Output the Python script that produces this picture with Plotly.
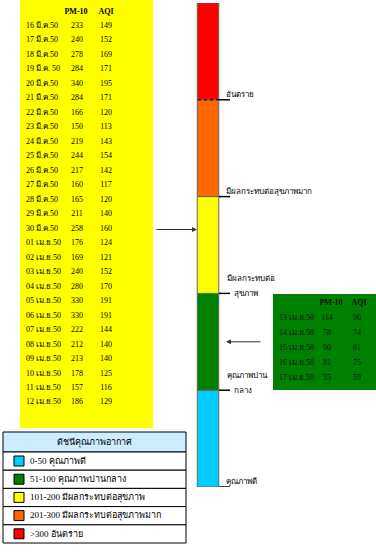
import plotly.graph_objects as go

# ---------------- data ----------------
dates_main = ["16 มี.ค.50", "17 มี.ค.50", "18 มี.ค.50", "19 มี.ค. 50", "20 มี.ค.50",
              "21 มี.ค.50", "22 มี.ค.50", "23 มี.ค.50", "24 มี.ค.50", "25 มี.ค.50",
              "26 มี.ค.50", "27 มี.ค.50", "28 มี.ค.50", "29 มี.ค.50", "30 มี.ค.50",
              "01 เม.ย.50", "02 เม.ย.50", "03 เม.ย.50", "04 เม.ย.50", "05 เม.ย.50",
              "06 เม.ย.50", "07 เม.ย.50", "08 เม.ย.50", "09 เม.ย.50", "10 เม.ย.50",
              "11 เม.ย.50", "12 เม.ย.50"]
pm10_main = [233, 240, 278, 284, 340, 284, 166, 150, 219, 244, 217, 160, 165, 211, 258,
             176, 169, 240, 280, 330, 330, 222, 212, 213, 178, 157, 186]
aqi_main = [149, 152, 169, 171, 195, 171, 120, 113, 143, 154, 142, 117, 120, 140, 160,
            124, 121, 152, 170, 191, 191, 144, 140, 140, 125, 116, 129]

dates_recent = ["13 เม.ย.50", "14 เม.ย.50", "15 เม.ย.50", "16 เม.ย.50", "17 เม.ย.50"]
pm10_recent = [114, 78, 90, 81, 55]
aqi_recent = [96, 74, 81, 75, 59]

levels = ["คุณภาพดี", "คุณภาพปานกลาง", "มีผลกระทบต่อสุขภาพ", "มีผลกระทบต่อสุขภาพมาก", "อันตราย"]
level_ranges = ["0-50", "51-100", "101-200", "201-300", ">300"]
level_colors = ["#00CCFF", "#008000", "#FFFF00", "#FF6600", "#FF0000"]
boundary_labels = [["คุณภาพดี"], ["คุณภาพปาน", "กลาง"], ["มีผลกระทบต่อ", "สุขภาพ"],
                   ["มีผลกระทบต่อสุขภาพมาก"], ["อันตราย"]]
legend_title = "ดัชนีคุณภาพอากาศ"

FONT = "Liberation Serif"
fig = go.Figure()

# ---------------- yellow table ----------------
fig.add_shape(type="rect", xref="x", yref="y", x0=20, x1=153, y0=0, y1=428,
              fillcolor="#FFFF00", line_width=0, layer="below")
row0, dy = 26, 14.48
ys = [row0 + i * dy for i in range(len(dates_main))]
tf = dict(family=FONT, size=8, color="#000000")
fig.add_trace(go.Scatter(x=[76, 106], y=[12, 12], mode="text", text=["<b>PM-10</b>", "<b>AQI</b>"],
                         textfont=tf, textposition="middle center", hoverinfo="skip"))
fig.add_trace(go.Scatter(x=[26] * len(ys), y=ys, mode="text", text=dates_main,
                         textfont=tf, textposition="middle right", hoverinfo="skip"))
fig.add_trace(go.Scatter(x=[77] * len(ys), y=ys, mode="text", text=[str(v) for v in pm10_main],
                         textfont=tf, textposition="middle center", hoverinfo="skip"))
fig.add_trace(go.Scatter(x=[106] * len(ys), y=ys, mode="text", text=[str(v) for v in aqi_main],
                         textfont=tf, textposition="middle center", hoverinfo="skip"))

# ---------------- green table ----------------
fig.add_shape(type="rect", xref="x", yref="y", x0=273, x1=376, y0=294, y1=390,
              fillcolor="#008000", line_width=0, layer="below")
ys2 = [318 + i * 15 for i in range(len(dates_recent))]
tf2 = dict(family=FONT, size=8, color="#111111")
fig.add_trace(go.Scatter(x=[331, 359], y=[303, 303], mode="text", text=["<b>PM-10</b>", "<b>AQI</b>"],
                         textfont=tf2, textposition="middle center", hoverinfo="skip"))
fig.add_trace(go.Scatter(x=[279] * len(ys2), y=ys2, mode="text", text=dates_recent,
                         textfont=tf2, textposition="middle right", hoverinfo="skip"))
fig.add_trace(go.Scatter(x=[327] * len(ys2), y=ys2, mode="text", text=[str(v) for v in pm10_recent],
                         textfont=tf2, textposition="middle center", hoverinfo="skip"))
fig.add_trace(go.Scatter(x=[357] * len(ys2), y=ys2, mode="text", text=[str(v) for v in aqi_recent],
                         textfont=tf2, textposition="middle center", hoverinfo="skip"))

# ---------------- AQI scale bar (y2: level index) ----------------
for i, c in enumerate(level_colors):
    fig.add_trace(go.Bar(x=[208], y=[1], base=[i], width=[21.5], marker_color=c,
                         marker_line=dict(color="#666666", width=1),
                         xaxis="x", yaxis="y2", hoverinfo="skip", showlegend=False))
# dotted boundary red/orange
fig.add_shape(type="line", xref="x", yref="y2", x0=198, x1=219, y0=4, y1=4,
              line=dict(color="#000000", width=1, dash="dot"))
lab_font = dict(family=FONT, size=8, color="#000000")
for i, lines in enumerate(boundary_labels):
    fig.add_shape(type="line", xref="x", yref="y2", x0=219, x1=230, y0=i, y1=i,
                  line=dict(color="#000000", width=1.5))
    if len(lines) == 1:
        fig.add_annotation(x=224, y=i, xref="x", yref="y2", text=lines[0], showarrow=False,
                           xanchor="left", yanchor="bottom", yshift=-1, font=lab_font)
    else:
        fig.add_annotation(x=225, y=i, xref="x", yref="y2", text=lines[0], showarrow=False,
                           xanchor="left", yanchor="middle", yshift=15, font=lab_font)
        fig.add_annotation(x=232, y=i, xref="x", yref="y2", text=lines[1], showarrow=False,
                           xanchor="left", yanchor="middle", yshift=0, font=lab_font)

# arrows
fig.add_annotation(x=197, y=2.66, xref="x", yref="y2", ax=155, ay=2.66, axref="x", ayref="y2",
                   text="", showarrow=True, arrowhead=2, arrowsize=1, arrowwidth=1, arrowcolor="#333333")
fig.add_annotation(x=226, y=1.5, xref="x", yref="y2", ax=262, ay=1.5, axref="x", ayref="y2",
                   text="", showarrow=True, arrowhead=2, arrowsize=1, arrowwidth=1, arrowcolor="#333333")

# ---------------- legend box ----------------
lx0, lx1, ly0, lhead, lrow = 3, 186, 432, 20, 18.2
fig.add_shape(type="rect", xref="x", yref="y", x0=lx0, x1=lx1, y0=ly0, y1=ly0 + lhead,
              fillcolor="#CCECFF", line=dict(color="#000000", width=1))
fig.add_annotation(x=(lx0 + lx1) / 2, y=ly0 + lhead / 2, xref="x", yref="y", text=legend_title,
                   showarrow=False, font=dict(family=FONT, size=9, color="#000000"))
for i, (rng, lab, c) in enumerate(zip(level_ranges, levels, level_colors)):
    y0 = ly0 + lhead + i * lrow
    fig.add_shape(type="rect", xref="x", yref="y", x0=lx0, x1=lx1, y0=y0, y1=y0 + lrow,
                  fillcolor="#FFFFFF", line=dict(color="#000000", width=1))
    fig.add_shape(type="rect", xref="x", yref="y", x0=14, x1=24, y0=y0 + 4, y1=y0 + 14,
                  fillcolor=c, line=dict(color="#000000", width=1))
    fig.add_annotation(x=28, y=y0 + lrow / 2, xref="x", yref="y", text=f"{rng} {lab}",
                       showarrow=False, xanchor="left",
                       font=dict(family=FONT, size=9, color="#000000"))

fig.update_layout(
    width=376, height=554, margin=dict(l=0, r=0, t=0, b=0),
    paper_bgcolor="#FFFFFF", plot_bgcolor="rgba(0,0,0,0)", showlegend=False, barmode="overlay",
    xaxis=dict(range=[0, 376], visible=False, fixedrange=True, domain=[0, 1]),
    yaxis=dict(range=[554, 0], visible=False, fixedrange=True, domain=[0, 1]),
    yaxis2=dict(range=[0, 5], visible=False, fixedrange=True, anchor="x",
                domain=[(554 - 487) / 554, (554 - 3) / 554]),
)
fig.write_html("out.html", config={"displayModeBar": False},
               post_script="document.body.style.margin='0';document.body.style.padding='0';")
